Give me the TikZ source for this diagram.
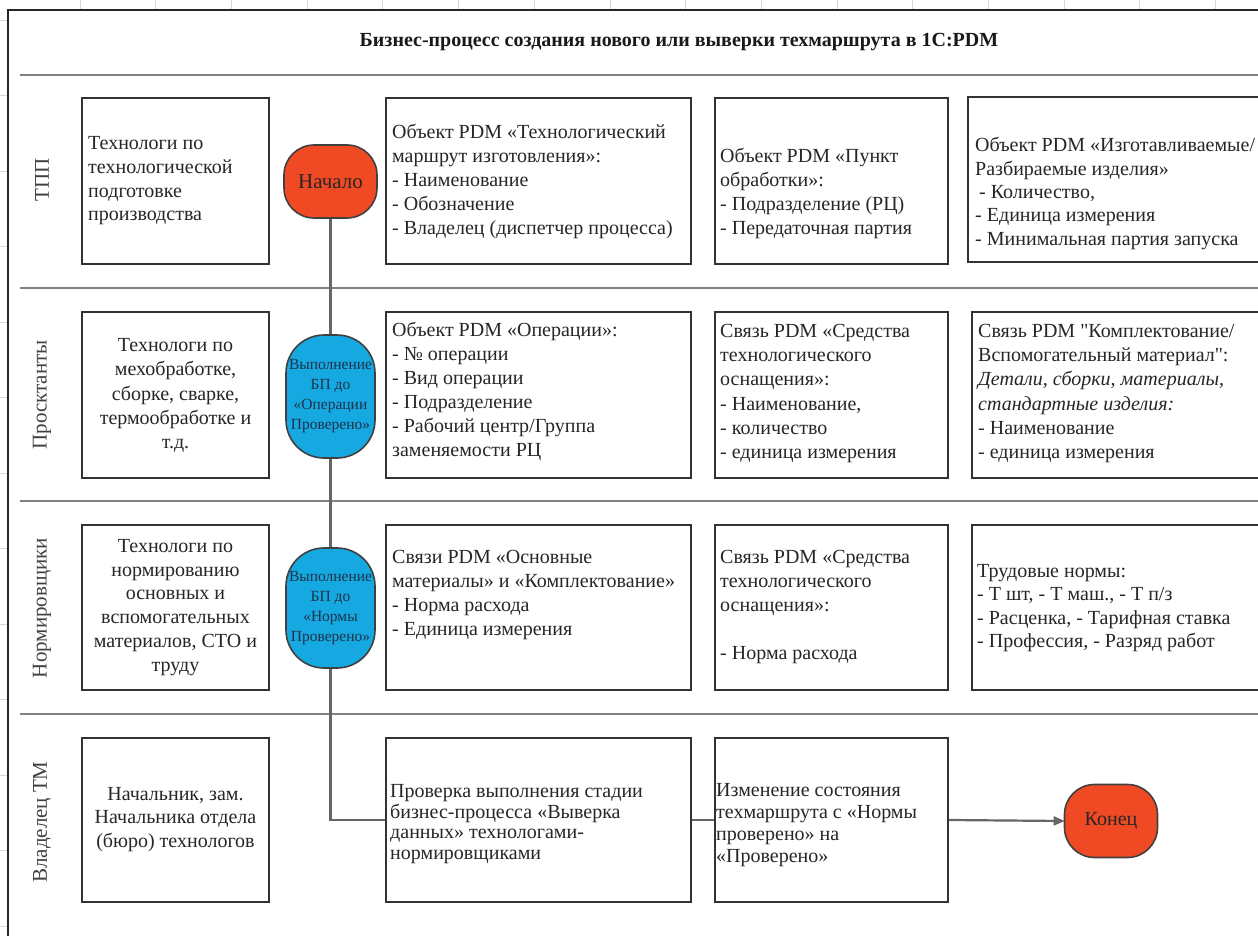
\documentclass[tikz,border=0pt]{standalone}
\usepackage{fontspec}
\setmainfont{Liberation Serif}
\newfontfamily\qfont{Liberation Serif}[Ligatures=TeXOff]
\newcommand{\sq}{{\qfont"}}
\usetikzlibrary{arrows.meta}
\definecolor{redfill}{RGB}{239,74,36}
\definecolor{bluefill}{RGB}{22,168,224}
\definecolor{lanegray}{RGB}{125,130,133}
\definecolor{gridgray}{RGB}{215,215,215}
\definecolor{bptext}{RGB}{30,50,75}
\begin{document}
\begin{tikzpicture}[x=1pt,y=-1pt,
  box/.style={draw=black!80, line width=1.8pt, fill=white, inner sep=0pt},
  txt/.style={anchor=west, align=left, inner sep=0pt, text=black!85},
  txtc/.style={anchor=center, align=center, inner sep=0pt, text=black!85},
  lanelbl/.style={rotate=90, inner sep=0pt, text=black!75, font=\fontsize{21}{24}\selectfont},
  lane/.style={draw=lanegray, line width=2.8pt},
  gridl/.style={draw=gridgray, line width=0.8pt},
  termbox/.style={draw=black!75, line width=1.6pt, fill=redfill, rounded corners=30pt, minimum width=93pt, minimum height=73pt, inner sep=0pt, text=black!85},
  bpbox/.style={draw=black!75, line width=1.6pt, fill=bluefill, rounded corners=38pt, minimum width=89pt, inner sep=0pt, align=center, font=\fontsize{15.5}{20}\selectfont, text=bptext},
  conn/.style={draw=black!60, line width=2.2pt}
]
\useasboundingbox (0,0) rectangle (1258,936);
\clip (0,0) rectangle (1258,936);
% background spreadsheet grid
\foreach \i in {0,...,15} \draw[gridl] ({80+75.7*\i},0) -- ({80+75.7*\i},10);
\foreach \i in {0,...,12} \draw[gridl] (0,{20+75.5*\i}) -- (8,{20+75.5*\i});
% outer frame
\draw[draw=black!85, line width=2pt, fill=white] (8,10) rectangle (1300,1000);
% title
\node[font=\bfseries\fontsize{20}{22}\selectfont, text=black!90] (title) at (679,42) {Бизнес-процесс создания нового или выверки техмаршрута в 1С:PDM};
% lane separators
\draw[lane] (20,75) -- (1258,75);
\draw[lane] (20,288) -- (1258,288);
\draw[lane] (20,501) -- (1258,501);
\draw[lane] (20,714) -- (1258,714);
% lane labels
\node[lanelbl] (l1) at (42,180) {ТПП};
\node[lanelbl] (l2) at (42,395) {Просктанты};
\node[lanelbl] (l3) at (42,608) {Нормировщики};
\node[lanelbl] (l4) at (42,822) {Владелец ТМ};
% boxes column 1
\node[box, minimum width=187pt, minimum height=166pt] (b11) at (175.5,181) {};
\node[box, minimum width=187pt, minimum height=166pt] (b12) at (175.5,395) {};
\node[box, minimum width=187pt, minimum height=165pt] (b13) at (175.5,607.5) {};
\node[box, minimum width=187pt, minimum height=164pt] (b14) at (175.5,820) {};
% column 3
\node[box, minimum width=305pt, minimum height=166pt] (b31) at (538.5,181) {};
\node[box, minimum width=305pt, minimum height=166pt] (b32) at (538.5,395) {};
\node[box, minimum width=305pt, minimum height=165pt] (b33) at (538.5,607.5) {};
\node[box, minimum width=305pt, minimum height=164pt] (b34) at (538.5,820) {};
% column 4
\node[box, minimum width=233pt, minimum height=166pt] (b41) at (831.5,181) {};
\node[box, minimum width=233pt, minimum height=166pt] (b42) at (831.5,395) {};
\node[box, minimum width=233pt, minimum height=165pt] (b43) at (831.5,607.5) {};
\node[box, minimum width=233pt, minimum height=164pt] (b44) at (831.5,820) {};
% column 5
\node[box, minimum width=307pt, minimum height=165pt] (b51) at (1121.5,179.5) {};
\node[box, minimum width=303pt, minimum height=166pt] (b52) at (1123.5,395) {};
\node[box, minimum width=303pt, minimum height=165pt] (b53) at (1123.5,607.5) {};
% terminals and process ovals
\node[termbox, font=\fontsize{21}{24}\selectfont] (start) at (330.5,181.5) {Начало};
\node[bpbox, minimum height=123pt] (bp1) at (330.5,396.5) {Выполнение\\БП до\\«Операции\\Проверено»};
\node[bpbox, minimum height=120pt] (bp2) at (330.5,608) {Выполнение\\БП до\\«Нормы\\Проверено»};
\node[termbox, font=\fontsize{20}{24}\selectfont] (end) at (1111,821) {Конец};
% connectors
\draw[conn] (start.south) -- (bp1.north);
\draw[conn] (bp1.south) -- (bp2.north);
\draw[conn] (bp2.south) |- (b34.west);
\draw[conn] (b34.east) -- (b44.west);
\draw[conn, -{Triangle[length=11pt,width=9pt]}, shorten >=-1pt] (b44.east) -- (end.west);
% texts column 1
\node[txt, font=\fontsize{20}{23.7}\selectfont] (t11) at (88,181) {Технологи по\\технологической\\подготовке\\производства};
\node[txtc, font=\fontsize{20}{24.2}\selectfont] (t12) at (175.5,395.5) {Технологи по\\мехобработке,\\сборке, сварке,\\термообработке и\\т.д.};
\node[txtc, font=\fontsize{20}{23.8}\selectfont] (t13) at (175.5,607.5) {Технологи по\\нормированию\\основных и\\вспомогательных\\материалов, СТО и\\труду};
\node[txtc, font=\fontsize{20}{23.5}\selectfont] (t14) at (175.5,819.5) {Начальник, зам.\\Начальника отдела\\(бюро) технологов};
% column 3
\node[txt, font=\fontsize{20}{24}\selectfont] (t31) at (392,181) {Объект PDM «Технологический\\маршрут изготовления»:\\- Наименование\\- Обозначение\\- Владелец (диспетчер процесса)};
\node[txt, font=\fontsize{20}{24}\selectfont] (t32) at (392,391) {Объект PDM «Операции»:\\- № операции\\- Вид операции\\- Подразделение\\- Рабочий центр/Группа\\заменяемости РЦ};
\node[txt, font=\fontsize{20}{24}\selectfont] (t33) at (392,595) {Связи PDM «Основные\\материалы» и «Комплектование»\\- Норма расхода\\- Единица измерения};
\node[txt, font=\fontsize{20}{20.7}\selectfont] (t34) at (390,824) {Проверка выполнения стадии\\бизнес-процесса «Выверка\\данных» технологами-\\нормировщиками};
% column 4
\node[txt, font=\fontsize{20}{23.7}\selectfont] (t41) at (720,193.5) {Объект PDM «Пункт\\обработки»:\\- Подразделение (РЦ)\\- Передаточная партия};
\node[txt, font=\fontsize{20}{24.2}\selectfont] (t42) at (720,393.5) {Связь PDM «Средства\\технологического\\оснащения»:\\- Наименование,\\- количество\\- единица измерения};
\node[txt, font=\fontsize{20}{24}\selectfont] (t43) at (720,607) {Связь PDM «Средства\\технологического\\оснащения»:\\\mbox{}\\- Норма расхода};
\node[txt, font=\fontsize{20}{22}\selectfont] (t44) at (716,825) {Изменение состояния\\техмаршрута с «Нормы\\проверено» на\\«Проверено»};
% column 5
\node[txt, font=\fontsize{20}{23.25}\selectfont] (t51) at (975,193.5) {Объект PDM «Изготавливаемые/\\Разбираемые изделия»\\\hspace*{4pt}- Количество,\\- Единица измерения\\- Минимальная партия запуска};
\node[txt, font=\fontsize{20}{24.2}\selectfont] (t52) at (978,393.5) {Связь PDM \sq Комплектование/\\Вспомогательный материал\sq:\\\textit{Детали, сборки, материалы,}\\\textit{стандартные изделия:}\\- Наименование\\- единица измерения};
\node[txt, font=\fontsize{20}{23.3}\selectfont] (t53) at (977,608) {Трудовые нормы:\\- Т шт, - Т маш., - Т п/з\\- Расценка, - Тарифная ставка\\- Профессия, - Разряд работ};
\end{tikzpicture}
\end{document}
